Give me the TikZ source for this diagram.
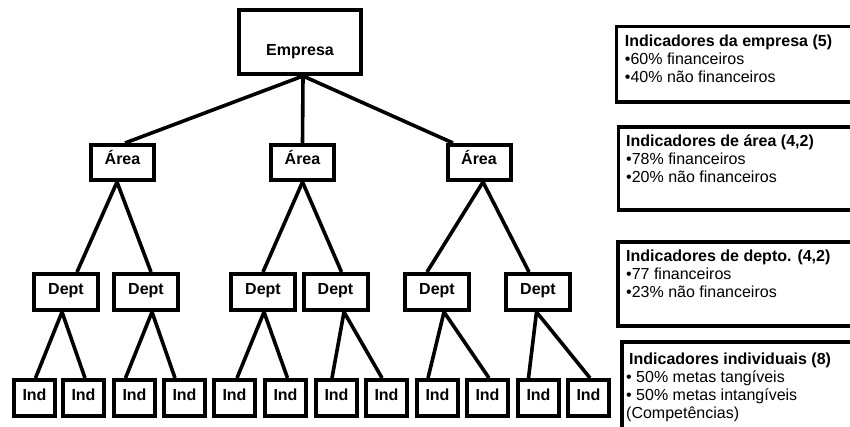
\documentclass[tikz,border=0pt]{standalone}
\usepackage{fontspec}
\setmainfont{Liberation Sans}
\usetikzlibrary{positioning}
\tikzset{
  orgbox/.style={
    draw,
    rectangle,
    line width=4pt,
    align=center,
    font=\fontsize{16}{18}\selectfont\bfseries,
    text height=10pt,
    text depth=6pt
  },
  areabox/.style={orgbox, minimum width=63pt, minimum height=35pt},
  deptbox/.style={orgbox, minimum width=64pt, minimum height=36pt},
  indbox/.style={orgbox, minimum width=41pt, minimum height=36pt},
  infobox/.style={
    draw,
    rectangle,
    line width=3.5pt,
    anchor=north west,
    minimum width=250pt
  },
  infotext/.style={inner sep=0pt, align=left},
  link/.style={line width=3.6pt}
}
\begin{document}
\begin{tikzpicture}[x=1pt,y=-1pt,font=\fontsize{16}{18}\selectfont]

\useasboundingbox (0,0) rectangle (850,426);
\clip (0,0) rectangle (850,426);

% Topo
\node[orgbox, minimum width=122pt, minimum height=64pt,
  text height=26pt, text depth=0pt] (empresa) at (300,42) {Empresa};

% Areas
\node[areabox] (area1) at (122.5,162.5) {Área};
\node[areabox] (area2) at (302.5,162.5) {Área};
\node[areabox] (area3) at (479,162.5) {Área};

% Departamentos
\node[deptbox] (dept1) at (66,292) {Dept};
\node[deptbox] (dept2) at (146,292) {Dept};
\node[deptbox] (dept3) at (263,292) {Dept};
\node[deptbox] (dept4) at (335.5,292) {Dept};
\node[deptbox] (dept5) at (437,292) {Dept};
\node[deptbox] (dept6) at (538,292) {Dept};

% Individuos
\node[indbox] (ind1) at (34.5,398) {Ind};
\node[indbox] (ind2) at (83.5,398) {Ind};
\node[indbox] (ind3) at (134.5,398) {Ind};
\node[indbox] (ind4) at (184.5,398) {Ind};
\node[indbox] (ind5) at (234.5,398) {Ind};
\node[indbox] (ind6) at (285.5,398) {Ind};
\node[indbox] (ind7) at (336.5,398) {Ind};
\node[indbox] (ind8) at (386.5,398) {Ind};
\node[indbox] (ind9) at (437.5,398) {Ind};
\node[indbox] (ind10) at (487.5,398) {Ind};
\node[indbox] (ind11) at (538.5,398) {Ind};
\node[indbox] (ind12) at (588.5,398) {Ind};

% Ligacoes empresa -> areas
\draw[link] ([xshift=3pt]empresa.south) -- ([xshift=2.5pt]area1.north);
\draw[link] ([xshift=3pt]empresa.south) -- (area2.north);
\draw[link] ([xshift=3pt]empresa.south) -- ([xshift=-26pt]area3.north);

% Ligacoes areas -> departamentos
\draw[link] ([xshift=-5.5pt]area1.south) -- ([xshift=11pt]dept1.north);
\draw[link] ([xshift=-5.5pt]area1.south) -- ([xshift=5pt]dept2.north);
\draw[link] (area2.south) -- (dept3.north);
\draw[link] (area2.south) -- ([xshift=6pt]dept4.north);
\draw[link] ([xshift=4pt]area3.south) -- ([xshift=-10pt]dept5.north);
\draw[link] ([xshift=4pt]area3.south) -- ([xshift=-9pt]dept6.north);

% Ligacoes departamentos -> individuos
\draw[link] ([xshift=-4pt]dept1.south) -- ([xshift=1pt]ind1.north);
\draw[link] ([xshift=-4pt]dept1.south) -- ([xshift=1.5pt]ind2.north);
\draw[link] ([xshift=6pt]dept2.south) -- ([xshift=-9pt]ind3.north);
\draw[link] ([xshift=6pt]dept2.south) -- ([xshift=-9.5pt]ind4.north);
\draw[link] ([xshift=1pt]dept3.south) -- ([xshift=2.5pt]ind5.north);
\draw[link] ([xshift=1pt]dept3.south) -- ([xshift=2pt]ind6.north);
\draw[link] ([xshift=8.5pt]dept4.south) -- ([xshift=-4.5pt]ind7.north);
\draw[link] ([xshift=8.5pt]dept4.south) -- ([xshift=-4.5pt]ind8.north);
\draw[link] ([xshift=7pt]dept5.south) -- ([xshift=-9.5pt]ind9.north);
\draw[link] ([xshift=7pt]dept5.south) -- ([xshift=1.5pt]ind10.north);
\draw[link] ([xshift=-1.5pt]dept6.south) -- ([xshift=-10pt]ind11.north);
\draw[link] ([xshift=-1.5pt]dept6.south) -- ([xshift=1.5pt]ind12.north);

% Quadros de indicadores (cortados na margem direita)
\node[infobox, minimum height=75.5pt] (infoEmpresa) at (614.75,24.75) {};
\node[infotext, below right=9.6pt and 10pt of infoEmpresa.north west] (txtEmpresa)
  {\textbf{Indicadores da empresa (5)}\\•60\% financeiros\\•40\% não financeiros};

\node[infobox, minimum height=83pt] (infoArea) at (616.5,125) {};
\node[infotext, below right=9.4pt and 9.5pt of infoArea.north west] (txtArea)
  {\textbf{Indicadores de área (4,2)}\\•78\% financeiros\\•20\% não financeiros};

\node[infobox, minimum height=84pt] (infoDepto) at (616,240) {};
\node[infotext, below right=9.4pt and 10pt of infoDepto.north west] (txtDepto)
  {\textbf{Indicadores de depto. (4,2)}\\•77 financeiros\\•23\% não financeiros};

\node[infobox, minimum height=110pt] (infoInd) at (620,340) {};
\node[infotext, below right=12.4pt and 6pt of infoInd.north west] (txtInd)
  {\hspace*{3pt}\textbf{Indicadores individuais (8)}\\• 50\% metas tangíveis\\• 50\% metas intangíveis\\(Competências)};

\end{tikzpicture}
\end{document}
